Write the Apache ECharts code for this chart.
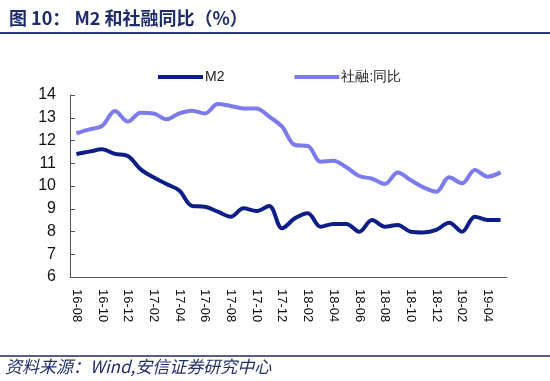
<!DOCTYPE html>
<html><head><meta charset="utf-8">
<script src="https://cdn.jsdelivr.net/npm/echarts@6/dist/echarts.min.js"></script>
<style>html,body{margin:0;padding:0;background:#fff}#c{width:550px;height:381px}</style>
</head><body><div id="c"></div>
<script>
const categories = ['16-08','16-09','16-10','16-11','16-12','17-01','17-02','17-03','17-04','17-05','17-06','17-07','17-08','17-09','17-10','17-11','17-12','18-01','18-02','18-03','18-04','18-05','18-06','18-07','18-08','18-09','18-10','18-11','18-12','19-01','19-02','19-03','19-04','19-05'];
const m2 = [11.41,11.51,11.61,11.41,11.32,10.73,10.38,10.09,9.80,9.12,9.09,8.87,8.65,9.02,8.90,9.12,8.14,8.58,8.80,8.21,8.33,8.33,7.99,8.51,8.21,8.29,7.99,7.96,8.07,8.39,7.99,8.65,8.51,8.51];
const tsf = [12.32,12.49,12.64,13.30,12.83,13.22,13.19,12.93,13.19,13.31,13.19,13.60,13.52,13.41,13.41,13.05,12.61,11.80,11.76,11.07,11.11,10.82,10.44,10.32,10.09,10.59,10.26,9.94,9.75,10.38,10.12,10.70,10.41,10.60];
const seriesNames = ['M2','社融:同比'];
const titleText = '图 10： M2 和社融同比（%）';
const sourceText = '资料来源：Wind,安信证券研究中心';

const chart = echarts.init(document.getElementById('c'), null, {renderer:'canvas'});
chart.setOption({
  backgroundColor:'#fff',
  animation:false,
  title:{text:titleText,left:4,top:4,textStyle:{fontFamily:'Noto Sans CJK SC',fontWeight:'bold',fontSize:18,color:'#1c2b6b'}},
  graphic:[
    {type:'rect',shape:{x:0,y:32,width:550,height:2},style:{fill:'#2c3a7e'}},
    {type:'rect',shape:{x:0,y:355,width:550,height:2},style:{fill:'#5b5b8c'}},
    {type:'text',left:5,top:358,style:{text:sourceText,fontFamily:'Noto Sans CJK SC',fontStyle:'italic',fontSize:17,fill:'#22306a'}}
  ],
  legend:{top:65,left:153,itemWidth:45,itemHeight:4,itemGap:70,icon:'rect',
    textStyle:{fontFamily:'Liberation Sans',fontSize:14,color:'#222',padding:[0,0,0,-3]},
    data:seriesNames},
  grid:{left:70,right:43,top:95,bottom:104},
  xAxis:{type:'category',data:categories,boundaryGap:true,
    axisLine:{lineStyle:{color:'#555',width:1}},
    axisTick:{inside:true,length:5,interval:1,lineStyle:{color:'#555'}},
    axisLabel:{interval:1,rotate:-90,margin:12,fontFamily:'Liberation Sans',fontSize:13,color:'#111'}},
  yAxis:{type:'value',min:6,max:14,interval:1,
    axisLine:{show:true,lineStyle:{color:'#555',width:1}},
    axisTick:{show:true,inside:true,length:5,lineStyle:{color:'#555'}},
    splitLine:{show:false},
    axisLabel:{margin:14,fontFamily:'Liberation Sans',fontSize:16,color:'#111'}},
  series:[
    {name:seriesNames[0],type:'line',data:m2,smooth:0.35,symbol:'none',lineStyle:{width:4,color:'#0d1f86'},itemStyle:{color:'#0d1f86'}},
    {name:seriesNames[1],type:'line',data:tsf,smooth:0.35,symbol:'none',lineStyle:{width:4,color:'#7b7bee'},itemStyle:{color:'#7b7bee'}}
  ]
});
</script></body></html>
